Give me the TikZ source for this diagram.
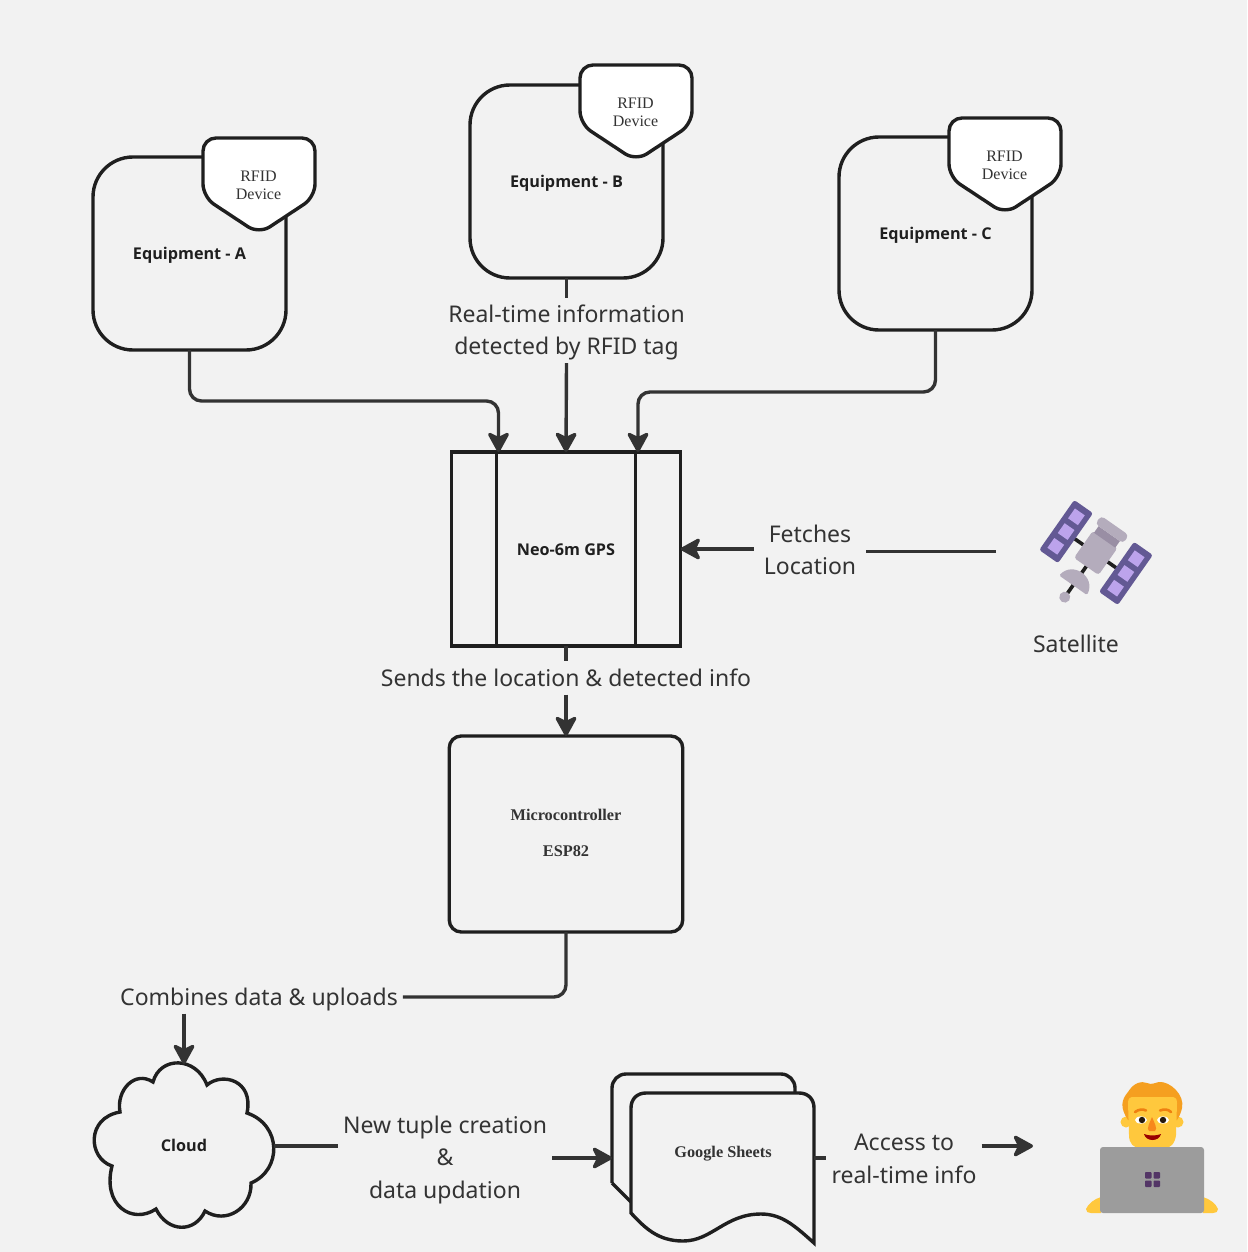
\documentclass[tikz,border=0pt]{standalone}
\usepackage{fontspec}
\setmainfont{Noto Sans}
\newfontfamily\serifface{Liberation Serif}
\newfontfamily\boldface{Open Sans}
\usetikzlibrary{arrows.meta}
\usetikzlibrary{positioning}

\definecolor{pagebg}{HTML}{F2F2F2}
\definecolor{inkline}{HTML}{1F1F1F}
\definecolor{flowline}{HTML}{333333}
\definecolor{panelblue}{HTML}{635994}
\definecolor{panelcell}{HTML}{BCA3EC}
\definecolor{satbody}{HTML}{B4ACBC}
\definecolor{satband}{HTML}{998EA4}
\definecolor{skin}{HTML}{FFC83D}
\definecolor{hair}{HTML}{F59F20}
\definecolor{logopurple}{HTML}{533566}

\tikzset{
  box/.style={draw=inkline,line width=3.4pt,outer sep=0pt,inner sep=0pt,text=inkline},
  equipbox/.style={box,rounded corners=40pt,minimum width=193pt,minimum height=193pt,text height=14pt,text depth=2pt,font=\boldface\bfseries\fontsize{16.2}{20}\selectfont},
  caption/.style={text=flowline,align=center,inner xsep=5pt,inner ysep=4.5pt,font=\fontsize{23}{32.5}\selectfont},
  oneline/.style={caption,text height=20pt,text depth=4pt},
  boldcaption/.style={text=inkline,align=center,inner sep=0pt,font=\boldface\bfseries\fontsize{16.2}{20}\selectfont},
  serifcaption/.style={text=flowline,align=center,inner sep=0pt,font=\serifface\bfseries\fontsize{16.3}{36}\selectfont},
  flow/.style={draw=flowline,line width=3.4pt,rounded corners=12pt},
  arrowflow/.style={flow,-{Stealth[length=23pt,width=25pt,inset=6pt,round]}},
  rfid tag/.pic={
    \draw[draw=inkline,fill=white,line width=3.4pt,rounded corners=13pt]
      (-56,-46) -- (56,-46) -- (56,13) -- (0,50) -- (-56,13) -- cycle;
    \node[text=flowline,align=center,inner sep=0pt,font=\serifface\fontsize{16}{18}\selectfont] (-text) at (-0.5,1.5) {RFID\\Device};
  }
}

\begin{document}
\begin{tikzpicture}[x=1pt,y=-1pt]
  \path[use as bounding box,fill=pagebg] (0,0) rectangle (1247,1252);

  \node[equipbox, name=equipa] at (189.5,253.5) {Equipment - A};
  \node[equipbox, name=equipb] at (566.5,181.5) {Equipment - B};
  \node[equipbox, name=equipc] at (935.5,233.5) {Equipment - C};
  \pic (taga) at (259,184) {rfid tag};
  \pic (tagb) at (636,111) {rfid tag};
  \pic (tagc) at (1005,164) {rfid tag};

  \node[box,minimum width=229.5pt,minimum height=194pt,text height=14pt,text depth=2pt,font=\boldface\bfseries\fontsize{16.2}{20}\selectfont, name=gps] at (566,549) {Neo-6m GPS};
  \draw[draw=inkline,line width=3.4pt] ([xshift=45pt]gps.north west) -- ([xshift=45pt]gps.south west);
  \draw[draw=inkline,line width=3.4pt] ([xshift=-45pt]gps.north east) -- ([xshift=-45pt]gps.south east);

  \node[box,rounded corners=12pt,minimum width=233.5pt,minimum height=196pt, name=micro] at (566,834) {};
  \node[serifcaption, name=microtext] at (566,833) {Microcontroller\\ESP82};

  % cloud
  \node[minimum width=180pt,minimum height=164pt,outer sep=0pt, name=cloud] at (184,1146) {};
  \draw[draw=inkline,line width=3.4pt,line join=miter]
    (153,1082) .. controls (160,1056) and (196,1056) .. (207,1085)
    .. controls (222,1072) and (254,1080) .. (247,1113)
    .. controls (282,1125) and (282,1170) .. (251,1183)
    .. controls (252,1208) and (226,1225) .. (205,1211)
    .. controls (195,1233) and (168,1233) .. (156,1209)
    .. controls (132,1225) and (102,1205) .. (112,1166)
    .. controls (88,1158) and (86,1118) .. (120,1112)
    .. controls (116,1090) and (135,1070) .. (153,1082) -- cycle;
  \node[boldcaption, name=cloudtext] at (184,1145) {Cloud};

  % sheets
  \node[minimum width=183pt,minimum height=120pt,outer sep=0pt, name=sheetsback] at (703.5,1134) {};
  \node[minimum width=183pt,minimum height=120pt,outer sep=0pt, name=sheets] at (722.5,1153) {};
  \draw[draw=inkline,line width=3.4pt,rounded corners=14pt]
    (612,1183) -- (612,1074) -- (795,1074) -- (795,1183);
  \draw[draw=inkline,line width=3.4pt] (612,1183) -- ++(19,19);
  \draw[draw=inkline,fill=pagebg,line width=3.4pt]
    (631,1213) -- (631,1108) .. controls (631,1099) and (637,1093) .. (646,1093) -- (799,1093)
    .. controls (808,1093) and (814,1099) .. (814,1108) -- (814,1243)
    .. controls (795,1226) and (782,1214) .. (761,1214)
    .. controls (725,1214) and (712,1241) .. (683,1241)
    .. controls (658,1241) and (645,1228) .. (631,1213) -- cycle;
  \node[serifcaption,font=\serifface\bfseries\fontsize{16.3}{20}\selectfont, name=sheetstext] at (723,1153.5) {Google Sheets};

  % labels
  \node[caption, name=realtime] at (566.5,332.5) {Real-time information\\detected by RFID tag};
  \node[caption, inner xsep=10pt, name=fetches] at (810,550) {Fetches\\Location};
  \node[oneline, name=sends] at (566,678) {Sends the location \& detected info};
  \node[oneline, name=combines] at (259,997) {Combines data \& uploads};
  \node[caption, name=newtuple] at (445,1160) {New tuple creation\\\&\\data updation};
  \node[caption, name=access] at (904,1159) {Access to\\real-time info};
  \node[oneline, name=satlabel] at (1076,644) {Satellite};

  \coordinate (sat) at (996,551.5);
  \coordinate (person) at (1033,1146);
  \coordinate (sheetrow) at (0,1158);

  \draw[arrowflow] (equipa.south) -- ++(0,51) -| ([xshift=-67.5pt]gps.north);
  \draw[flow] (equipb.south) -- ([yshift=2pt]realtime.north);
  \draw[arrowflow] ([yshift=2pt]realtime.south) -- (gps.north);
  \draw[arrowflow] (equipc.south) -- ++(0,62) -| ([xshift=72pt]gps.north);
  \draw[flow] (sat) -- (sat -| fetches.east);
  \draw[arrowflow] (fetches.west |- gps.east) -- (gps.east);
  \draw[flow] (gps.south) -- (sends.north);
  \draw[arrowflow] (sends.south) -- (micro.north);
  \draw[flow] (micro.south) |- (combines.east);
  \draw[arrowflow] (combines.south -| cloud.north) -- (cloud.north);
  \draw[flow] (cloud.east) -- (cloud.east -| newtuple.west);
  \draw[arrowflow] (newtuple.east |- sheetrow) -- (sheetsback.west |- sheetrow);
  \draw[flow] (sheets.east |- sheetrow) -- (access.west |- sheetrow);
  \draw[arrowflow] (person -| access.east) -- (person);

  % satellite
  \begin{scope}[shift={(1096,552.5)},rotate=-35]
    \draw[line width=3.6pt,draw=inkline] (-27,1) -- (27,1);
    \draw[line width=3.6pt,draw=inkline] (0,10) -- (0,58);
    \foreach \sx in {-36.5,36.5} {
      \fill[panelblue,rounded corners=2.5pt] (\sx-11.5,-30.5) rectangle (\sx+11.5,30.5);
      \foreach \sy in {-18,0,18}
        \fill[panelcell] (\sx-6,\sy-6) rectangle (\sx+6,\sy+6);
    }
    \fill[satbody,rounded corners=3pt] (-15,-16) rectangle (15,17);
    \fill[satband] (-13,-23) rectangle (13,-15);
    \fill[satbody,rounded corners=4pt] (-17,-33) rectangle (17,-23);
    \fill[satbody,rounded corners=1.5pt] (-17,40) .. controls (-14,20) and (14,20) .. (17,40) -- cycle;
    \fill[satbody] (0,54.5) circle (5.5);
  \end{scope}

  % person
  \fill[skin] (1126,1122) circle (5.5);
  \fill[skin] (1178,1122) circle (5.5);
  \fill[hair] (1128,1120) .. controls (1120,1108) and (1121,1100) .. (1128,1092)
    .. controls (1134,1082) and (1142,1081) .. (1147,1083)
    .. controls (1152,1085) and (1154,1083) .. (1159,1082)
    .. controls (1170,1081) and (1185,1095) .. (1182,1108)
    .. controls (1181,1113) and (1179,1117) .. (1177,1120) -- cycle;
  \fill[skin] (1128,1103) .. controls (1128,1098) and (1130,1097) .. (1134,1097)
    -- (1171,1097) .. controls (1175,1097) and (1177,1098) .. (1177,1103)
    -- (1176,1135) .. controls (1175,1144) and (1170,1148) .. (1165,1148)
    -- (1140,1148) .. controls (1134,1148) and (1129,1144) .. (1129,1135) -- cycle;
  \draw[draw=orange!75!brown,line width=2.6pt,line cap=round] (1135,1112) .. controls (1139,1109) and (1143,1109) .. (1146,1110.5);
  \draw[draw=orange!75!brown,line width=2.6pt,line cap=round] (1160,1110.5) .. controls (1164,1109) and (1168,1109) .. (1171,1112);
  \fill[white] (1141,1120) ellipse (6 and 3.6);
  \fill[white] (1163,1120) ellipse (6 and 3.6);
  \fill[black!80!brown] (1142,1120) circle (3.2);
  \fill[black!80!brown] (1163,1120) circle (3.2);
  \fill[hair!85!red] (1152,1117) .. controls (1154,1122) and (1158,1129) .. (1155,1131) -- (1149,1131) .. controls (1146,1129) and (1150,1122) .. (1152,1117) -- cycle;
  \fill[red!60!black] (1144,1134) .. controls (1149,1136) and (1156,1136) .. (1161,1134) .. controls (1159,1142) and (1146,1142) .. (1144,1134) -- cycle;
  \fill[skin] (1101,1197) .. controls (1094,1199) and (1088,1204) .. (1086,1209) .. controls (1086,1212) and (1088,1213) .. (1091,1213) -- (1101,1213) -- cycle;
  \fill[skin] (1203,1197) .. controls (1210,1199) and (1216,1204) .. (1218,1209) .. controls (1218,1212) and (1216,1213) .. (1213,1213) -- (1203,1213) -- cycle;
  \fill[black!39,rounded corners=3pt] (1100,1213) -- (1100,1147) -- (1204,1147) -- (1204,1213) -- cycle;
  \foreach \lx/\ly in {1145/1172,1153.5/1172,1145/1180.5,1153.5/1180.5}
    \fill[logopurple,rounded corners=0.8pt] (\lx,\ly) rectangle (\lx+6.5,\ly+6.5);
\end{tikzpicture}
\end{document}
